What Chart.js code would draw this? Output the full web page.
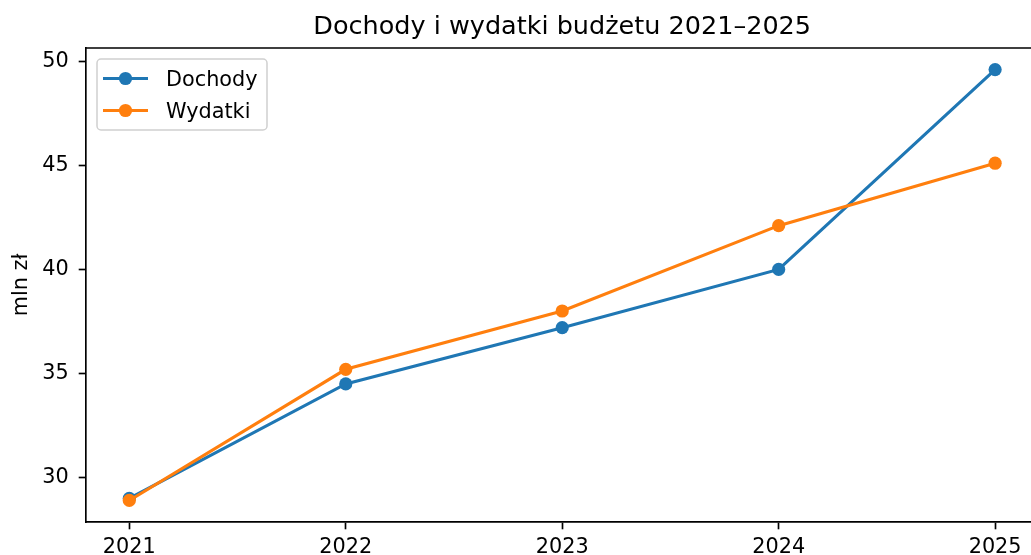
<!DOCTYPE html>
<html>
<head>
<meta charset="utf-8">
<script src="https://cdn.jsdelivr.net/npm/chart.js@4.4.1/dist/chart.umd.min.js"></script>
<style>
    html, body { margin: 0; padding: 0; background: #fff; overflow: hidden; }
    canvas { display: block; }
</style>
</head>
<body>
<canvas id="budget" width="1045" height="555"></canvas>
<script>
var years = [2021, 2022, 2023, 2024, 2025];
var dochody = [29.0, 34.5, 37.2, 40.0, 49.6];
var wydatki = [28.9, 35.2, 38.0, 42.1, 45.1];
var yTicks = [30, 35, 40, 45, 50];

document.addEventListener("DOMContentLoaded", function () {
    var ctx = document.getElementById('budget').getContext('2d');
    var font = "'DejaVu Sans', sans-serif";

    // matplotlib style 5% margins
    var all = dochody.concat(wydatki);
    var yMin = Math.min.apply(null, all), yMax = Math.max.apply(null, all);
    var yPad = (yMax - yMin) * 0.05;
    var xPad = (years[years.length - 1] - years[0]) * 0.05;

    function points(vals) {
        return years.map(function (y, i) { return { x: y, y: vals[i] }; });
    }

    // top + right spines
    var frame = {
        id: 'frame',
        afterDraw: function (chart) {
            var a = chart.chartArea, c = chart.ctx;
            c.save();
            c.strokeStyle = '#000';
            c.lineWidth = 1.67;
            c.beginPath();
            c.moveTo(a.left, a.top);
            c.lineTo(a.right, a.top);
            c.lineTo(a.right, a.bottom);
            c.stroke();
            c.restore();
        }
    };

    // legend inside upper left, line + marker handles
    var insideLegend = {
        id: 'insideLegend',
        afterDraw: function (chart) {
            var a = chart.chartArea, c = chart.ctx;
            var x = a.left + 11, y = a.top + 11, w = 170, h = 71;
            c.save();
            c.beginPath();
            c.roundRect(x, y, w, h, 4);
            c.fillStyle = 'rgba(255,255,255,0.8)';
            c.fill();
            c.strokeStyle = '#d0d0d0';
            c.lineWidth = 1.5;
            c.stroke();
            chart.data.datasets.forEach(function (ds, i) {
                var ry = y + 19.5 + i * 32;
                c.strokeStyle = ds.borderColor;
                c.lineWidth = 3.1;
                c.beginPath();
                c.moveTo(x + 6, ry);
                c.lineTo(x + 51, ry);
                c.stroke();
                c.fillStyle = ds.backgroundColor;
                c.beginPath();
                c.arc(x + 28.5, ry, 6.6, 0, Math.PI * 2);
                c.fill();
                c.fillStyle = '#000';
                c.font = '20.8px ' + font;
                c.textBaseline = 'alphabetic';
                c.fillText(ds.label, x + 69, ry + 7);
            });
            c.restore();
        }
    };

    var lineChart = new Chart(ctx, {
        type: 'line',
        data: {
            datasets: [{
                label: 'Dochody',
                data: points(dochody),
                borderColor: '#1f77b4',
                backgroundColor: '#1f77b4',
                borderWidth: 3.1,
                pointRadius: 6.6,
                pointBorderWidth: 0,
                order: 1
            }, {
                label: 'Wydatki',
                data: points(wydatki),
                borderColor: '#ff7f0e',
                backgroundColor: '#ff7f0e',
                borderWidth: 3.1,
                pointRadius: 6.6,
                pointBorderWidth: 0,
                order: 0
            }]
        },
        options: {
            responsive: false,
            animation: false,
            devicePixelRatio: 1,
            layout: { padding: { left: 0, right: 6, top: 0, bottom: 0 } },
            plugins: {
                legend: { display: false },
                tooltip: { enabled: false },
                title: {
                    display: true,
                    fullSize: false,
                    text: 'Dochody i wydatki budżetu 2021–2025',
                    color: '#000',
                    font: { family: font, size: 25.5, weight: 'normal' },
                    padding: { top: 12, bottom: 5.4 }
                }
            },
            scales: {
                x: {
                    type: 'linear',
                    min: years[0] - xPad,
                    max: years[years.length - 1] + xPad,
                    afterBuildTicks: function (s) {
                        s.ticks = years.map(function (v) { return { value: v }; });
                    },
                    afterFit: function (s) { s.height = 33; },
                    ticks: {
                        color: '#000',
                        padding: 6,
                        font: { family: font, size: 20.8 },
                        callback: function (v) { return String(v); }
                    },
                    grid: { drawOnChartArea: false, tickLength: 7.3, tickWidth: 1.67, tickColor: '#000' },
                    border: { color: '#000', width: 1.67 }
                },
                y: {
                    min: yMin - yPad,
                    max: yMax + yPad,
                    afterBuildTicks: function (s) {
                        s.ticks = yTicks.map(function (v) { return { value: v }; });
                    },
                    afterFit: function (s) { s.width = 86; },
                    ticks: {
                        color: '#000',
                        padding: 10,
                        font: { family: font, size: 20.8 },
                        callback: function (v) { return String(v); }
                    },
                    title: {
                        display: true,
                        text: 'mln zł',
                        color: '#000',
                        font: { family: font, size: 20.8 },
                        padding: { top: 9, bottom: 0 }
                    },
                    grid: { drawOnChartArea: false, tickLength: 7.3, tickWidth: 1.67, tickColor: '#000' },
                    border: { color: '#000', width: 1.67 }
                }
            }
        },
        plugins: [frame, insideLegend]
    });
});
</script>
</body>
</html>
